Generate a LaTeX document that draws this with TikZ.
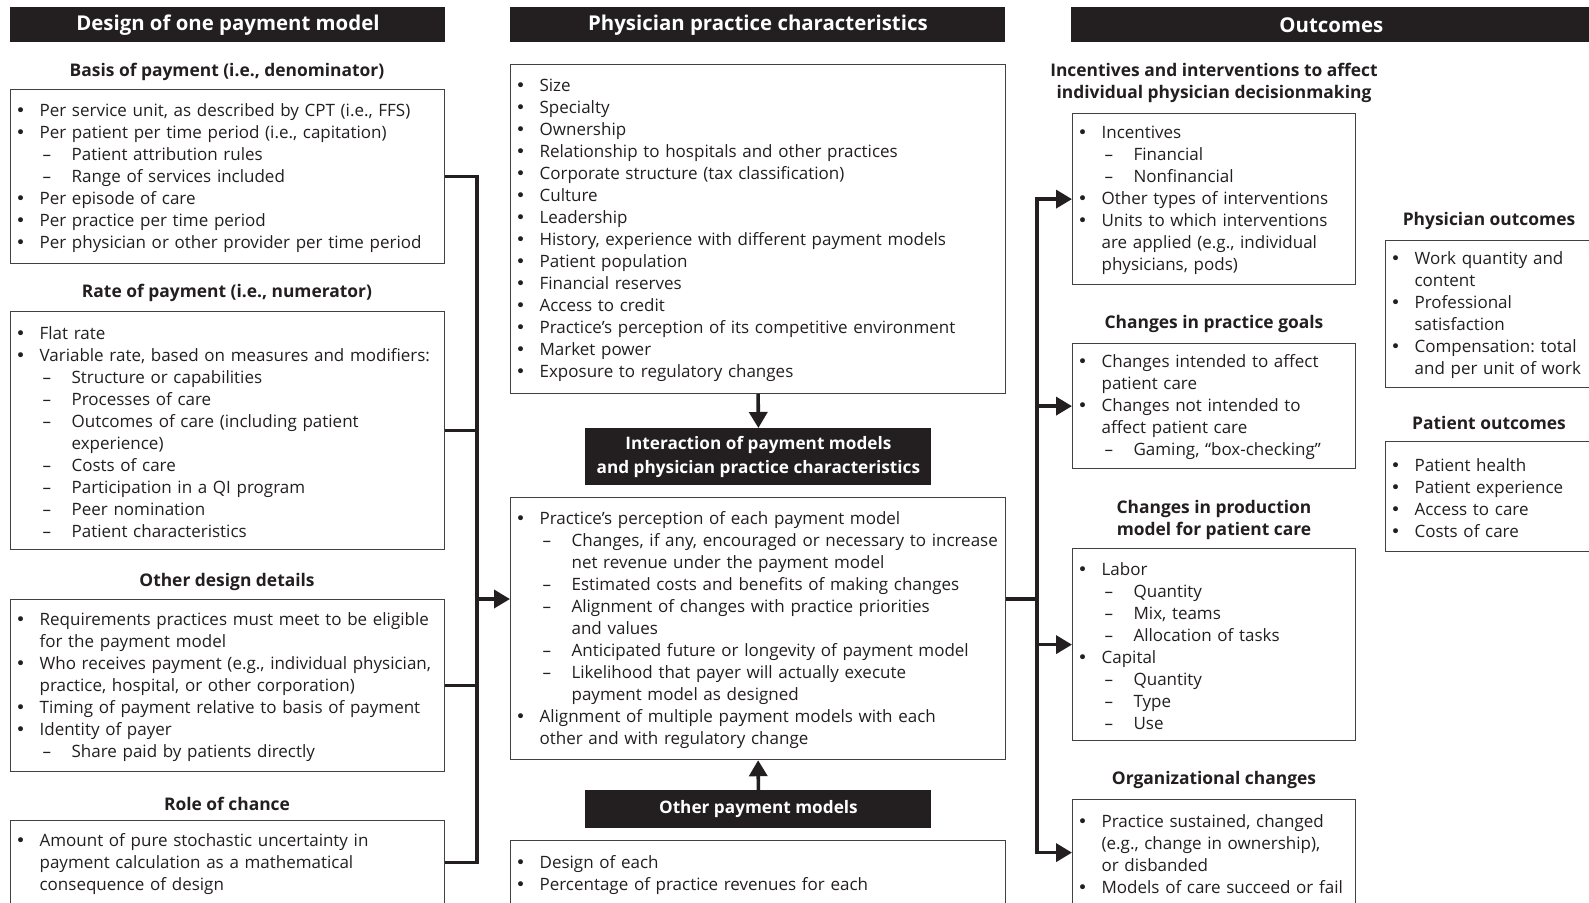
\documentclass[tikz,border=0pt]{standalone}
\usepackage{fontspec}
\setmainfont{Open Sans}
\newfontfamily\bulletfont{DejaVu Sans}
\usetikzlibrary{arrows.meta}

\definecolor{ink}{HTML}{231F20}

% list lines inside the boxes
\newcommand{\dotmark}{{\bulletfont •}}
\newcommand{\bul}{\par\noindent\hangindent=14.5pt\hangafter=1\hspace*{2.5pt}\makebox[12pt][l]{\dotmark}}
\newcommand{\dsh}{\par\noindent\hangindent=30.5pt\hangafter=1\hspace*{16pt}\makebox[14.5pt][l]{--}}
\newcommand{\boxend}{\par\vspace{3.5pt}}

\begin{document}
\begin{tikzpicture}[x=0.5pt, y=-0.5pt,
    bar/.style={rectangle, fill=ink, text=white, anchor=north west, inner sep=0pt, align=center, font=\bfseries\fontsize{10.2}{12}\selectfont},
    midbar/.style={bar, minimum width=173pt, font=\bfseries\fontsize{8.6}{12}\selectfont},
    sectitle/.style={text=ink, align=center, inner sep=0pt, yshift=-1.2pt, font=\bfseries\fontsize{8.7}{10.6}\selectfont},
    listbox/.style={rectangle, draw=ink!85, line width=0.6pt, anchor=north west, inner xsep=0pt, inner ysep=0pt, align=left, text=ink,
        font=\frenchspacing\fontsize{8.5}{11}\selectfont},
    leftbox/.style={listbox, text width=217pt},
    midbox/.style={listbox, text width=247.5pt},
    outbox/.style={listbox, text width=141.5pt},
    endbox/.style={listbox, text width=110pt},
    link/.style={draw=ink, line width=1.8pt},
    arrowlink/.style={link, -{Triangle[length=8pt, width=9pt]}}
]
    \clip (0,0) rectangle (1589,902);
    \fill[white] (0,0) rectangle (1589,902);

    % Column heads
    \node[bar, minimum width=217.5pt, minimum height=17.5pt] (hdesign) at (10,7) {Design of one payment model};
    \node[bar, minimum width=247.5pt, minimum height=17.5pt] (hpractice) at (510,7) {Physician practice characteristics};
    \node[bar, minimum width=260pt, minimum height=17.5pt] (houtcome) at (1071,7) {Outcomes};

    % Design of one payment model
    \node[sectitle] (tbasis) at (227,70) {Basis of payment (i.e., denominator)};
    \node[leftbox, minimum height=87pt] (basis) at (10,89) {%
        \bul Per service unit, as described by CPT (i.e., FFS)
        \bul Per patient per time period (i.e., capitation)
        \dsh Patient attribution rules
        \dsh Range of services included
        \bul Per episode of care
        \bul Per practice per time period
        \bul Per physician or other provider per time period\boxend};

    \node[sectitle] (trate) at (227,291) {Rate of payment (i.e., numerator)};
    \node[leftbox, minimum height=119pt] (rate) at (10,311) {%
        \bul Flat rate
        \bul Variable rate, based on measures and modifiers:
        \dsh Structure or capabilities
        \dsh Processes of care
        \dsh Outcomes of care (including patient\newline experience)
        \dsh Costs of care
        \dsh Participation in a QI program
        \dsh Peer nomination
        \dsh Patient characteristics\boxend};

    \node[sectitle] (tdesign) at (227,580) {Other design details};
    \node[leftbox, minimum height=86pt] (design) at (10,599) {%
        \bul Requirements practices must meet to be eligible\newline for the payment model
        \bul Who receives payment (e.g., individual physician,\newline practice, hospital, or other corporation)
        \bul Timing of payment relative to basis of payment
        \bul Identity of payer
        \dsh Share paid by patients directly\boxend};

    \node[sectitle] (tchance) at (227,802) {Role of chance};
    \node[leftbox, minimum height=42pt] (chance) at (10,820) {%
        \bul Amount of pure stochastic uncertainty in\newline payment calculation as a mathematical\newline consequence of design\boxend};

    % Physician practice characteristics
    \node[midbox, minimum height=164.5pt] (traits) at (510,64) {%
        \bul Size
        \bul Specialty
        \bul Ownership
        \bul Relationship to hospitals and other practices
        \bul Corporate structure (tax classification)
        \bul Culture
        \bul Leadership
        \bul History, experience with different payment models
        \bul Patient population
        \bul Financial reserves
        \bul Access to credit
        \bul Practice’s perception of its competitive environment
        \bul Market power
        \bul Exposure to regulatory changes\boxend};

    \node[midbar, minimum height=28.5pt] (hinteract) at (585,428) {Interaction of payment models\\and physician practice characteristics};
    \node[midbox, minimum height=131pt] (percept) at (510,497) {%
        \bul Practice’s perception of each payment model
        \dsh Changes, if any, encouraged or necessary to increase\newline net revenue under the payment model
        \dsh Estimated costs and benefits of making changes
        \dsh Alignment of changes with practice priorities\newline and values
        \dsh Anticipated future or longevity of payment model
        \dsh Likelihood that payer will actually execute\newline payment model as designed
        \bul Alignment of multiple payment models with each\newline other and with regulatory change\boxend};

    \node[midbar, minimum height=19pt] (hothers) at (585,790) {Other payment models};
    \node[midbox, minimum height=33pt] (others) at (510,840) {%
        \bul Design of each
        \bul Percentage of practice revenues for each\boxend};

    % Outcomes
    \node[sectitle] (tincent) at (1214,80.5) {Incentives and interventions to affect\\individual physician decisionmaking};
    \node[outbox, minimum height=85.5pt] (incent) at (1072,113) {%
        \bul Incentives
        \dsh Financial
        \dsh Nonfinancial
        \bul Other types of interventions
        \bul Units to which interventions\newline are applied (e.g., individual\newline physicians, pods)\boxend};

    \node[sectitle] (tgoals) at (1214,322) {Changes in practice goals};
    \node[outbox, minimum height=62.5pt] (goals) at (1072,343) {%
        \bul Changes intended to affect\newline patient care
        \bul Changes not intended to\newline affect patient care
        \dsh Gaming, “box-checking”\boxend};

    \node[sectitle] (tprod) at (1214,517.5) {Changes in production\\model for patient care};
    \node[outbox, minimum height=96pt] (prod) at (1072,548) {%
        \bul Labor
        \dsh Quantity
        \dsh Mix, teams
        \dsh Allocation of tasks
        \bul Capital
        \dsh Quantity
        \dsh Type
        \dsh Use\boxend};

    \node[sectitle] (torg) at (1214,778) {Organizational changes};
    \node[outbox, minimum height=53pt] (orgch) at (1072,799) {%
        \bul Practice sustained, changed\newline (e.g., change in ownership),\newline or disbanded
        \bul Models of care succeed or fail\boxend};

    \node[sectitle] (tphys) at (1489,219) {Physician outcomes};
    \node[endbox, minimum height=73.5pt] (physout) at (1385,240) {%
        \bul Work quantity and\newline content
        \bul Professional\newline satisfaction
        \bul Compensation: total\newline and per unit of work\boxend};

    \node[sectitle] (tpat) at (1489,421) {Patient outcomes};
    \node[endbox, minimum height=55pt] (patout) at (1385,441) {%
        \bul Patient health
        \bul Patient experience
        \bul Access to care
        \bul Costs of care\boxend};

    % Design elements into the interaction
    \coordinate (lhub) at (477,599);
    \draw[link] (basis.east) -| (lhub);
    \draw[link] (chance.east) -| (lhub);
    \draw[link] (rate.east) -- (rate.east -| lhub);
    \draw[link] (design.east) -- (design.east -| lhub);
    \draw[arrowlink] (lhub) -- (percept.west |- lhub);

    \draw[arrowlink] (traits.south) -- (hinteract.north);
    \draw[arrowlink] (hothers.north) -- (percept.south);

    % Interaction to outcomes
    \coordinate (rhub) at (1037,599);
    \draw[link] (percept.east |- rhub) -- (rhub);
    \draw[arrowlink] (rhub) |- (incent.west);
    \draw[arrowlink] (rhub) |- (goals.west);
    \draw[arrowlink] (rhub) |- (prod.west);
    \draw[arrowlink] (rhub) |- (orgch.west);

\end{tikzpicture}
\end{document}
